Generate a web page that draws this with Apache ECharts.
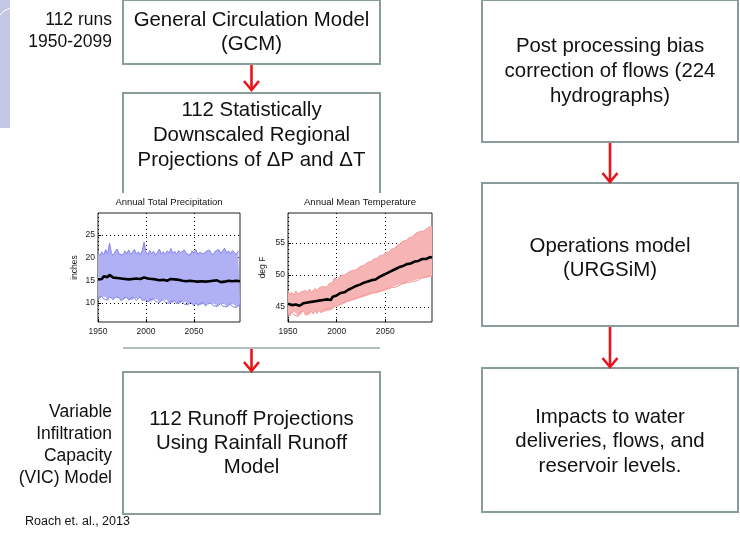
<!DOCTYPE html>
<html>
<head>
<meta charset="utf-8">
<script src="https://cdn.jsdelivr.net/npm/echarts@6/dist/echarts.min.js"></script>
<style>
html,body{margin:0;padding:0;background:#fff;}
#c{width:740px;height:533px;}
</style>
</head>
<body>
<div id="c"></div>
<script>
// ---- data ----
const years = [1950,1952,1954,1956,1958,1960,1962,1964,1966,1968,
  1970,1972,1974,1976,1978,1980,1982,1984,1986,1988,
  1990,1992,1994,1996,1998,2000,2002,2004,2006,2008,
  2010,2012,2014,2016,2018,2020,2022,2024,2026,2028,
  2030,2032,2034,2036,2038,2040,2042,2044,2046,2048,
  2050,2052,2054,2056,2058,2060,2062,2064,2066,2068,
  2070,2072,2074,2076,2078,2080,2082,2084,2086,2088,
  2090,2092,2094,2096,2098];

const precipMedian = [15.2,15.6,15.3,15.9,16.1,15.7,16.2,15.8,15.6,15.9,
  15.5,15.7,15.4,15.6,15.3,15.5,15.2,15.4,15.3,15.1,
  15.4,15.2,15.3,15.5,15.6,15.2,15.4,15.1,15.3,15.0,
  15.2,15.1,15.0,15.2,15.1,15.0,14.9,15.1,15.3,15.4,
  15.2,15.3,15.1,15.0,14.9,15.1,14.8,15.0,14.9,15.2,
  14.8,14.9,14.7,15.0,14.8,14.9,14.7,15.1,14.8,14.6,
  14.9,14.7,15.0,14.8,14.6,14.9,14.7,14.5,14.9,14.6,
  14.8,14.7,14.9,14.6,14.8];
const precipUpper = [21.0,20.4,21.3,20.6,21.8,20.9,23.2,21.0,20.5,21.4,
  21.9,20.8,21.2,20.6,21.5,20.9,21.7,20.7,21.1,21.8,
  20.8,21.3,20.6,21.5,23.4,21.2,20.7,21.6,20.9,21.4,
  20.5,21.2,21.9,20.8,21.3,20.6,21.5,21.0,22.0,20.9,
  21.4,20.7,21.6,21.1,20.8,21.7,20.9,21.3,20.6,21.5,
  21.0,21.8,20.7,21.2,21.6,20.8,21.3,20.9,21.7,21.1,
  20.6,21.4,21.0,21.8,20.9,21.3,22.1,21.0,21.5,20.8,
  21.6,21.2,20.7,21.4,21.0];
const precipLower = [11.2,10.8,11.5,10.9,11.3,10.6,11.4,11.0,10.7,11.3,
  10.9,11.2,10.5,11.0,10.8,11.3,10.6,11.1,10.7,11.2,
  10.5,10.9,11.4,10.6,11.0,10.7,10.2,10.8,10.4,10.9,
  10.3,10.7,10.1,10.5,10.8,10.2,10.6,9.9,10.4,10.0,
  10.5,9.8,10.3,9.9,10.4,9.7,10.1,9.6,10.2,9.8,
  9.5,10.0,9.4,9.9,9.6,10.1,9.3,9.8,9.5,9.9,
  9.4,9.7,9.2,9.6,9.9,9.3,9.7,9.1,9.5,9.8,
  9.2,9.6,9.0,9.4,9.7];

const tempMedian = [45.5,45.6,45.3,45.5,45.4,45.6,45.2,45.5,45.6,45.4,
  45.7,45.5,45.8,45.6,45.9,45.8,46.0,45.9,46.1,46.3,
  46.2,46.5,46.1,46.6,46.9,46.8,47.1,47.2,47.4,47.3,
  47.6,47.7,47.9,48.0,48.1,48.3,48.2,48.5,48.6,48.8,
  48.7,49.0,49.1,49.2,49.4,49.3,49.6,49.7,49.8,50.0,
  50.1,50.3,50.4,50.6,50.7,50.9,51.0,51.2,51.3,51.4,
  51.6,51.7,51.9,51.8,52.0,52.1,52.3,52.2,52.4,52.5,
  52.6,52.5,52.7,52.8,52.7];
const tempUpper = [47.6,46.9,47.3,46.8,47.5,47.0,46.7,47.4,47.1,47.6,
  47.2,47.8,47.3,47.6,47.9,47.5,48.0,47.7,48.2,48.4,
  48.1,48.6,48.3,48.9,49.6,49.2,49.5,49.9,50.1,50.0,
  50.2,50.4,50.3,50.7,50.9,50.8,51.1,51.3,51.2,51.5,
  51.7,52.0,52.2,52.1,52.5,52.7,52.6,53.0,53.2,53.1,
  53.5,53.7,53.6,54.0,54.3,54.2,54.6,54.8,54.9,55.3,
  55.5,55.4,55.8,56.1,56.0,56.3,56.6,56.5,56.8,57.0,
  56.9,57.2,57.4,57.3,57.6];
const tempLower = [44.0,43.6,44.3,43.8,44.1,43.5,44.2,43.9,44.4,43.7,
  44.1,43.8,44.3,43.9,44.4,44.0,44.5,44.1,44.6,44.3,
  44.7,44.4,44.9,44.6,45.1,45.3,45.2,45.6,45.4,45.8,
  45.7,46.0,45.9,46.2,46.1,46.4,46.3,46.6,46.5,46.8,
  46.7,47.0,46.9,47.2,47.1,47.3,47.2,47.5,47.4,47.7,
  47.6,47.9,47.8,48.0,48.2,48.1,48.4,48.3,48.5,48.7,
  48.6,48.8,49.0,48.9,49.1,49.0,49.3,49.2,49.4,49.6,
  49.5,49.7,49.6,49.9,49.8];

const precipTicks = [10, 15, 20, 25];
const tempTicks = [45, 50, 55];

// ---- chart ----
const FONT = '"Liberation Sans", Arial, sans-serif';
const BOX = '#8a9c9c';
const RED = '#e8141a';
const chart = echarts.init(document.getElementById('c'), null, {renderer: 'canvas'});

function bandSeries(gi, lower, upper, median, edge, fill, stack) {
  return [
    {type: 'line', xAxisIndex: gi, yAxisIndex: gi, stack: stack, data: lower,
     symbol: 'none', lineStyle: {color: edge, width: 1}, z: 2, silent: true},
    {type: 'line', xAxisIndex: gi, yAxisIndex: gi, stack: stack,
     data: upper.map((u, i) => +(u - lower[i]).toFixed(2)),
     symbol: 'none', lineStyle: {color: edge, width: 1}, areaStyle: {color: fill, opacity: 1}, z: 2, silent: true},
    {type: 'line', xAxisIndex: gi, yAxisIndex: gi, data: median,
     symbol: 'none', lineStyle: {color: '#000', width: 2.6}, z: 5, silent: true}
  ];
}

const axisFont = {fontFamily: FONT, fontSize: 8.5, color: '#222'};
function xAx(gi) {
  return {type: 'category', gridIndex: gi, data: years.map(String), boundaryGap: false,
    axisLine: {show: false}, axisTick: {show: true, inside: true, length: 3, interval: 24, lineStyle: {color: '#000'}},
    axisLabel: Object.assign({interval: 24, margin: 5}, axisFont),
    splitLine: {show: true, interval: 24, lineStyle: {color: '#000', type: [1, 3], width: 1}}};
}
function yAx(gi, min, max, ticks, name, gap) {
  return {type: 'value', gridIndex: gi, min: min, max: max, name: name, nameLocation: 'middle', nameGap: gap,
    nameTextStyle: axisFont,
    axisLine: {show: false}, axisTick: {show: true, inside: true, length: 3, customValues: ticks, lineStyle: {color: '#000'}},
    axisLabel: Object.assign({customValues: ticks, margin: 3}, axisFont),
    splitLine: {show: true, lineStyle: {color: '#000', type: [1, 3], width: 1}}};
}

function box(x, y, w, h) {
  return {type: 'rect', shape: {x: x, y: y, width: w, height: h}, z: -5,
    style: {fill: '#fff', stroke: BOX, lineWidth: 2}};
}
function arrow(x, y1, y2) {
  return [
    {type: 'line', shape: {x1: x, y1: y1, x2: x, y2: y2}, z: 10, style: {stroke: RED, lineWidth: 2.6}},
    {type: 'polyline', shape: {points: [[x - 7.5, y2 - 9], [x, y2], [x + 7.5, y2 - 9]]}, z: 10,
     style: {stroke: RED, lineWidth: 2.6, fill: null}}
  ];
}
function txt(str, x, y, size, align, lh) {
  return {type: 'text', x: x, y: y, z: 10,
    style: {text: str, font: size + 'px ' + FONT, fill: '#111', align: align, verticalAlign: 'middle',
      textAlign: align, textVerticalAlign: 'middle', lineHeight: lh}};
}

const graphics = [].concat(
  [{type: 'rect', shape: {x: 0, y: 0, width: 10, height: 128}, z: -6, style: {fill: '#c4c7e4'}},
   {type: 'polyline', shape: {points: [[0, 15], [4, 11], [10, 8]]}, z: -6, style: {stroke: '#fff', lineWidth: 1, fill: null}}],
  [box(123, 0, 257, 64)],
  [{type: 'polyline', shape: {points: [[123, 193], [123, 93], [380, 93], [380, 193]]}, z: -5,
    style: {stroke: BOX, lineWidth: 2, fill: null}},
   {type: 'line', shape: {x1: 123, y1: 348, x2: 380, y2: 348}, z: -5, style: {stroke: '#9aa8a8', lineWidth: 1.5}}],
  [box(123, 372, 257, 142)],
  [box(482, 0, 256, 142), box(482, 183, 256, 143), box(482, 368, 256, 144)],
  arrow(251.5, 65, 90),
  arrow(251.5, 349, 371),
  arrow(610, 143, 182),
  arrow(610, 327, 367),
  [txt('General Circulation Model\n(GCM)', 251.5, 32, 20.4, 'center', 24),
   txt('112 Statistically\nDownscaled Regional\nProjections of \u0394P and \u0394T', 251.5, 135, 20.4, 'center', 25),
   txt('112 Runoff Projections\nUsing Rainfall Runoff\nModel', 251.5, 443, 20.4, 'center', 24),
   txt('Post processing bias\ncorrection of flows (224\nhydrographs)', 610, 71.5, 20.4, 'center', 25),
   txt('Operations model\n(URGSiM)', 610, 258, 20.4, 'center', 24),
   txt('Impacts to water\ndeliveries, flows, and\nreservoir levels.', 610, 441.5, 20.4, 'center', 24.5),
   txt('112 runs\n1950-2099', 112, 31, 17.5, 'right', 21.5),
   txt('Variable\nInfiltration\nCapacity\n(VIC) Model', 112, 445, 17.5, 'right', 22),
   txt('Roach et. al., 2013', 25, 522, 12.5, 'left', 14)]
);

const option = {
  animation: false,
  backgroundColor: '#fff',
  title: [
    {text: 'Annual Total Precipitation', left: 169, top: 197, textAlign: 'center', padding: 0,
     textStyle: {fontFamily: FONT, fontSize: 9.5, fontWeight: 'normal', color: '#111'}},
    {text: 'Annual Mean Temperature', left: 360, top: 197, textAlign: 'center', padding: 0,
     textStyle: {fontFamily: FONT, fontSize: 9.5, fontWeight: 'normal', color: '#111'}}
  ],
  grid: [
    {left: 98, top: 213, width: 142, height: 109, show: true, borderColor: '#222', borderWidth: 1, backgroundColor: '#fff'},
    {left: 288, top: 213, width: 144, height: 109, show: true, borderColor: '#222', borderWidth: 1, backgroundColor: '#fff'}
  ],
  xAxis: [xAx(0), xAx(1)],
  yAxis: [yAx(0, 5.8, 29.85, precipTicks, 'inches', 19), yAx(1, 42.66, 59.69, tempTicks, 'deg F', 21)],
  series: [].concat(
    bandSeries(0, precipLower, precipUpper, precipMedian, '#8585ec', '#b0b0f4', 'p'),
    bandSeries(1, tempLower, tempUpper, tempMedian, '#f49a9a', '#f7b4b4', 't')
  ),
  graphic: graphics
};
chart.setOption(option);
</script>
</body>
</html>
